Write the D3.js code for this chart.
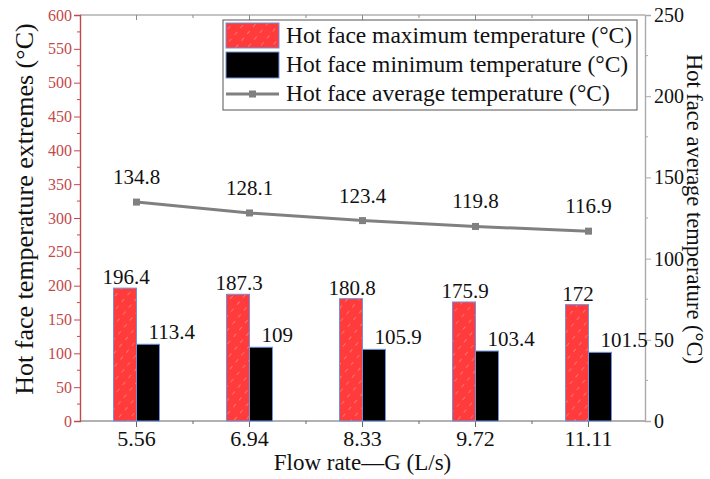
<!DOCTYPE html>
<html>
<head>
<meta charset="utf-8">
<script src="https://cdn.jsdelivr.net/npm/d3@7"></script>
<style>
  body { margin: 0; background: #fff; }
  svg text { font-family: "Liberation Serif", serif; }
</style>
</head>
<body>
<svg id="chart"></svg>
<script>
const flowRates = ["5.56", "6.94", "8.33", "9.72", "11.11"];
const maxTemps = [196.4, 187.3, 180.8, 175.9, 172];
const minTemps = [113.4, 109, 105.9, 103.4, 101.5];
const avgTemps = [134.8, 128.1, 123.4, 119.8, 116.9];
const leftTicks = d3.range(0, 601, 50);
const rightTicks = d3.range(0, 251, 50);

const FONT = "Liberation Serif";
const width = 710, height = 479;
const margin = { top: 15, right: 65, bottom: 58, left: 80 };
const plotW = width - margin.left - margin.right;
const plotH = height - margin.top - margin.bottom;

const svg = d3.select("#chart")
    .attr("width", width)
    .attr("height", height)
    .attr("font-family", FONT);

// hatch for the red bars
const defs = svg.append("defs");
const pat = defs.append("pattern")
    .attr("id", "hatch")
    .attr("patternUnits", "userSpaceOnUse")
    .attr("width", 9).attr("height", 9)
    .attr("patternTransform", "rotate(40)");
pat.append("rect").attr("width", 9).attr("height", 9).attr("fill", "#ff3b3b");
pat.append("line")
    .attr("x1", 0).attr("y1", 0).attr("x2", 0).attr("y2", 4)
    .attr("stroke", "#ffa8a8").attr("stroke-width", 1);

const g = svg.append("g").attr("transform", `translate(${margin.left},${margin.top})`);

const x = d3.scaleBand().domain(flowRates).range([0, plotW]).padding(0);
const yL = d3.scaleLinear().domain([0, 600]).range([plotH, 0]);
const yR = d3.scaleLinear().domain([0, 250]).range([plotH, 0]);

const barW = 23;
const red = "#c24a4a";
const gray = "#8a8a8a";

// frame top
g.append("line").attr("x1", 0).attr("x2", plotW).attr("y1", 0).attr("y2", 0)
    .attr("stroke", gray).attr("stroke-width", 1.2);

// bottom axis
const xMinor = d3.range(1, flowRates.length).map(i => i * x.bandwidth());
const bottom = g.append("g").attr("transform", `translate(0,${plotH})`);
bottom.append("line").attr("x1", 0).attr("x2", plotW).attr("stroke", "#666").attr("stroke-width", 1.2);
bottom.selectAll(".maj").data(flowRates).enter().append("line")
    .attr("x1", d => x(d) + x.bandwidth() / 2).attr("x2", d => x(d) + x.bandwidth() / 2)
    .attr("y1", 0).attr("y2", 6).attr("stroke", "#666");
bottom.selectAll(".min").data(xMinor).enter().append("line")
    .attr("x1", d => d).attr("x2", d => d).attr("y1", 0).attr("y2", 3).attr("stroke", "#666");
bottom.selectAll(".lab").data(flowRates).enter().append("text")
    .attr("x", d => x(d) + x.bandwidth() / 2).attr("y", 25)
    .attr("text-anchor", "middle").attr("font-size", 22).attr("fill", "#111")
    .attr("font-family", FONT)
    .text(d => d);

// top ticks
g.selectAll(".tmaj").data(flowRates).enter().append("line")
    .attr("x1", d => x(d) + x.bandwidth() / 2).attr("x2", d => x(d) + x.bandwidth() / 2)
    .attr("y1", 0).attr("y2", 5).attr("stroke", gray);
g.selectAll(".tmin").data(xMinor).enter().append("line")
    .attr("x1", d => d).attr("x2", d => d).attr("y1", 0).attr("y2", 3).attr("stroke", gray);

// left axis (red)
const left = g.append("g")
    .call(d3.axisLeft(yL).tickValues(leftTicks).tickSize(6).tickPadding(2))
    .attr("font-family", FONT);
left.select(".domain").attr("stroke", red).attr("stroke-width", 1.4);
left.selectAll(".tick line").attr("stroke", red);
left.selectAll(".tick text").attr("fill", red).attr("font-size", 16);
g.append("g").selectAll("line").data(leftTicks.slice(0, -1).map(d => d + 25)).enter().append("line")
    .attr("x1", -3).attr("x2", 0).attr("y1", d => yL(d)).attr("y2", d => yL(d)).attr("stroke", red);

// right axis (gray)
const right = g.append("g").attr("transform", `translate(${plotW},0)`)
    .call(d3.axisRight(yR).tickValues(rightTicks).tickSize(6).tickPadding(3))
    .attr("font-family", FONT);
right.select(".domain").attr("stroke", "#aaa").attr("stroke-width", 1.4);
right.selectAll(".tick line").attr("stroke", "#aaa");
right.selectAll(".tick text").attr("fill", "#111").attr("font-size", 20);
g.append("g").selectAll("line").data(rightTicks.slice(0, -1).map(d => d + 25)).enter().append("line")
    .attr("x1", plotW).attr("x2", plotW + 3).attr("y1", d => yR(d)).attr("y2", d => yR(d)).attr("stroke", "#aaa");

// bars
const cx = d => x(d) + x.bandwidth() / 2;
g.selectAll(".bmax").data(flowRates).enter().append("rect")
    .attr("x", d => cx(d) - barW).attr("width", barW)
    .attr("y", (d, i) => yL(maxTemps[i])).attr("height", (d, i) => plotH - yL(maxTemps[i]))
    .attr("fill", "url(#hatch)").attr("stroke", "#6f93e0").attr("stroke-width", 1);
g.selectAll(".bmin").data(flowRates).enter().append("rect")
    .attr("x", d => cx(d)).attr("width", barW)
    .attr("y", (d, i) => yL(minTemps[i])).attr("height", (d, i) => plotH - yL(minTemps[i]))
    .attr("fill", "#000").attr("stroke", "#6f93e0").attr("stroke-width", 1);

g.selectAll(".lmax").data(flowRates).enter().append("text")
    .attr("x", d => cx(d) - barW / 2 + 1).attr("y", (d, i) => yL(maxTemps[i]) - 4)
    .attr("text-anchor", "middle").attr("font-size", 21).attr("fill", "#111")
    .attr("font-family", FONT)
    .text((d, i) => maxTemps[i]);
g.selectAll(".lmin").data(flowRates).enter().append("text")
    .attr("x", d => cx(d) + 12).attr("y", (d, i) => yL(minTemps[i]) - 5)
    .attr("text-anchor", "start").attr("font-size", 21).attr("fill", "#111")
    .attr("font-family", FONT)
    .text((d, i) => minTemps[i]);

// average line
const line = d3.line().x((d, i) => cx(flowRates[i])).y(d => yR(d));
g.append("path").datum(avgTemps).attr("d", line)
    .attr("fill", "none").attr("stroke", "#808080").attr("stroke-width", 3);
g.selectAll(".mk").data(avgTemps).enter().append("rect")
    .attr("x", (d, i) => cx(flowRates[i]) - 3.5).attr("y", d => yR(d) - 3.5)
    .attr("width", 7).attr("height", 7).attr("fill", "#808080");
g.selectAll(".lavg").data(avgTemps).enter().append("text")
    .attr("x", (d, i) => cx(flowRates[i])).attr("y", d => yR(d) - 18)
    .attr("text-anchor", "middle").attr("font-size", 21).attr("fill", "#111")
    .attr("font-family", FONT)
    .text(d => d);

// axis titles
svg.append("text")
    .attr("transform", "translate(33,209) rotate(-90)")
    .attr("text-anchor", "middle").attr("font-size", 26).attr("fill", "#111")
    .attr("font-family", FONT)
    .text("Hot face temperature extremes (°C)");
svg.append("text")
    .attr("transform", "translate(687,209) rotate(90)")
    .attr("text-anchor", "middle").attr("font-size", 22.5).attr("fill", "#111")
    .attr("font-family", FONT)
    .text("Hot face average temperature (°C)");
svg.append("text")
    .attr("x", margin.left + plotW / 2).attr("y", 470)
    .attr("text-anchor", "middle").attr("font-size", 23).attr("fill", "#111")
    .attr("font-family", FONT)
    .text("Flow rate—G (L/s)");

// legend
const legend = svg.append("g").attr("transform", "translate(223,20)");
legend.append("rect").attr("width", 414).attr("height", 90)
    .attr("fill", "#fff").attr("stroke", "#555").attr("stroke-width", 1);
const legendItems = [
    "Hot face maximum temperature (°C)",
    "Hot face minimum temperature (°C)",
    "Hot face average temperature (°C)"
];
legend.append("rect").attr("x", 3).attr("y", 3).attr("width", 53).attr("height", 25)
    .attr("fill", "url(#hatch)").attr("stroke", "#6f93e0");
legend.append("rect").attr("x", 3).attr("y", 32).attr("width", 53).attr("height", 26)
    .attr("fill", "#000").attr("stroke", "#6f93e0");
legend.append("line").attr("x1", 3).attr("x2", 56).attr("y1", 74).attr("y2", 74)
    .attr("stroke", "#808080").attr("stroke-width", 3);
legend.append("rect").attr("x", 26).attr("y", 70.5).attr("width", 7).attr("height", 7).attr("fill", "#808080");
legend.selectAll(".lt").data(legendItems).enter().append("text")
    .attr("x", 63).attr("y", (d, i) => 23 + i * 29)
    .attr("font-size", 23.5).attr("fill", "#111")
    .attr("font-family", FONT)
    .text(d => d);
</script>
</body>
</html>
